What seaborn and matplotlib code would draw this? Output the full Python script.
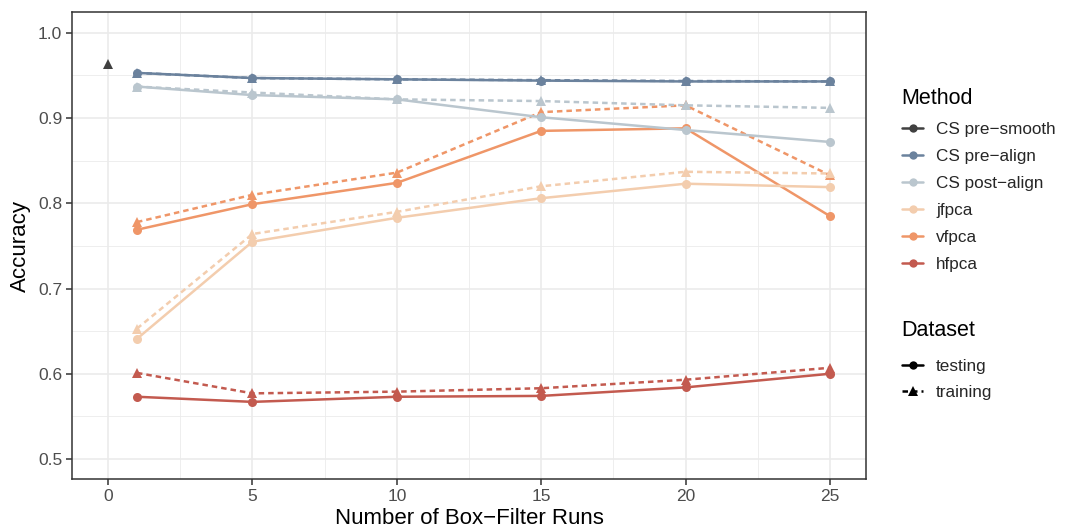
import matplotlib
matplotlib.use("Agg")
import matplotlib.pyplot as plt
from matplotlib.lines import Line2D
from matplotlib.ticker import MultipleLocator
import numpy as np
import pandas as pd
import seaborn as sns

# Accuracy by number of box-filter runs, per method and dataset
runs = [1, 5, 10, 15, 20, 25]
methods = ["CS pre\u2212smooth", "CS pre\u2212align", "CS post\u2212align", "jfpca", "vfpca", "hfpca"]
colors = ["#404040", "#6B829D", "#BAC6CE", "#F3CDAE", "#EF9668", "#C35A4F"]

pre_smooth_train = [0.963]
pre_align_test = [0.953, 0.947, 0.9455, 0.944, 0.943, 0.943]
pre_align_train = [0.953, 0.947, 0.9455, 0.9445, 0.9435, 0.943]
post_align_test = [0.937, 0.927, 0.922, 0.901, 0.886, 0.872]
post_align_train = [0.937, 0.930, 0.922, 0.920, 0.915, 0.912]
jfpca_test = [0.641, 0.755, 0.783, 0.806, 0.823, 0.819]
jfpca_train = [0.653, 0.764, 0.790, 0.820, 0.837, 0.835]
vfpca_test = [0.769, 0.799, 0.824, 0.885, 0.888, 0.785]
vfpca_train = [0.778, 0.810, 0.836, 0.907, 0.915, 0.833]
hfpca_test = [0.573, 0.567, 0.573, 0.574, 0.584, 0.600]
hfpca_train = [0.601, 0.577, 0.579, 0.583, 0.593, 0.607]

series = {
    (methods[0], "training"): ([0], pre_smooth_train),
    (methods[1], "testing"): (runs, pre_align_test),
    (methods[1], "training"): (runs, pre_align_train),
    (methods[2], "testing"): (runs, post_align_test),
    (methods[2], "training"): (runs, post_align_train),
    (methods[3], "testing"): (runs, jfpca_test),
    (methods[3], "training"): (runs, jfpca_train),
    (methods[4], "testing"): (runs, vfpca_test),
    (methods[4], "training"): (runs, vfpca_train),
    (methods[5], "testing"): (runs, hfpca_test),
    (methods[5], "training"): (runs, hfpca_train),
}
rows = []
for (m, d), (xs, ys) in series.items():
    for x, y in zip(xs, ys):
        rows.append({"Method": m, "Dataset": d, "Runs": x, "Accuracy": y})
df = pd.DataFrame(rows)

sns.set_theme(style="white")
plt.rcParams["font.family"] = ["Liberation Sans", "DejaVu Sans"]

W, H = 1066, 529
fig = plt.figure(figsize=(W / 100, H / 100), dpi=100)
ax = fig.add_axes([72 / W, 1 - 479 / H, (866 - 72) / W, (479 - 12) / H])

palette = dict(zip(methods, colors))
sns.lineplot(
    data=df, x="Runs", y="Accuracy", hue="Method", style="Dataset",
    hue_order=methods[::-1], style_order=["testing", "training"],
    palette=palette, markers={"testing": "o", "training": "^"},
    dashes={"testing": "", "training": (2.2, 1.6)},
    markersize=6.5, linewidth=1.8, markeredgewidth=0,
    legend=False, ax=ax, sort=True, estimator=None,
)

ax.set_xlim(-1.25, 26.25)
ax.set_ylim(0.4765, 1.0245)
ax.xaxis.set_major_locator(MultipleLocator(5))
ax.xaxis.set_minor_locator(MultipleLocator(2.5))
ax.yaxis.set_minor_locator(MultipleLocator(0.05))
ax.set_yticks([0.5, 0.6, 0.7, 0.8, 0.9, 1.0])
ax.set_yticklabels(["0.5", "0.6", "0.7", "0.8", "0.9", "1.0"])
ax.grid(which="major", color="#EBEBEB", linewidth=1.2)
ax.grid(which="minor", color="#EBEBEB", linewidth=0.6)
ax.set_axisbelow(True)
for s in ax.spines.values():
    s.set_color("#333333")
    s.set_linewidth(1.1)
ax.tick_params(which="major", length=4, width=1.1, color="#333333",
               labelsize=12.5, labelcolor="#4D4D4D", pad=3, bottom=True, left=True)
ax.tick_params(which="minor", length=0)
ax.set_xlabel("Number of Box\u2212Filter Runs", fontsize=16, color="black", labelpad=3)
ax.set_ylabel("Accuracy", fontsize=16, color="black", labelpad=5)

# Legends: titles as figure text, entries as untitled legends
legend_kw = dict(loc="center left", frameon=False, fontsize=12.3, handlelength=1.25,
                 handletextpad=0.75, borderaxespad=0, alignment="left")

fig.text(901 / W, 1 - 98 / H, "Method", fontsize=15.5, color="black",
         ha="left", va="center")
method_handles = [
    Line2D([], [], color=c, marker="o", markersize=6, linewidth=1.8, markeredgewidth=0)
    for c in colors
]
leg1 = fig.legend(method_handles, methods, bbox_to_anchor=(895 / W, 1 - 197 / H),
                  labelspacing=0.7, **legend_kw)

fig.text(901 / W, 1 - 331 / H, "Dataset", fontsize=15.5, color="black",
         ha="left", va="center")
data_handles = [
    Line2D([], [], color="black", marker="o", markersize=6, linewidth=1.8, markeredgewidth=0),
    Line2D([], [], color="black", marker="^", markersize=6.5, linewidth=1.8,
           markeredgewidth=0, dashes=(2.2, 1.6)),
]
leg2 = fig.legend(data_handles, ["testing", "training"],
                  bbox_to_anchor=(895 / W, 1 - 379.5 / H),
                  labelspacing=0.62, **legend_kw)

fig.savefig("out.png", dpi=100)
